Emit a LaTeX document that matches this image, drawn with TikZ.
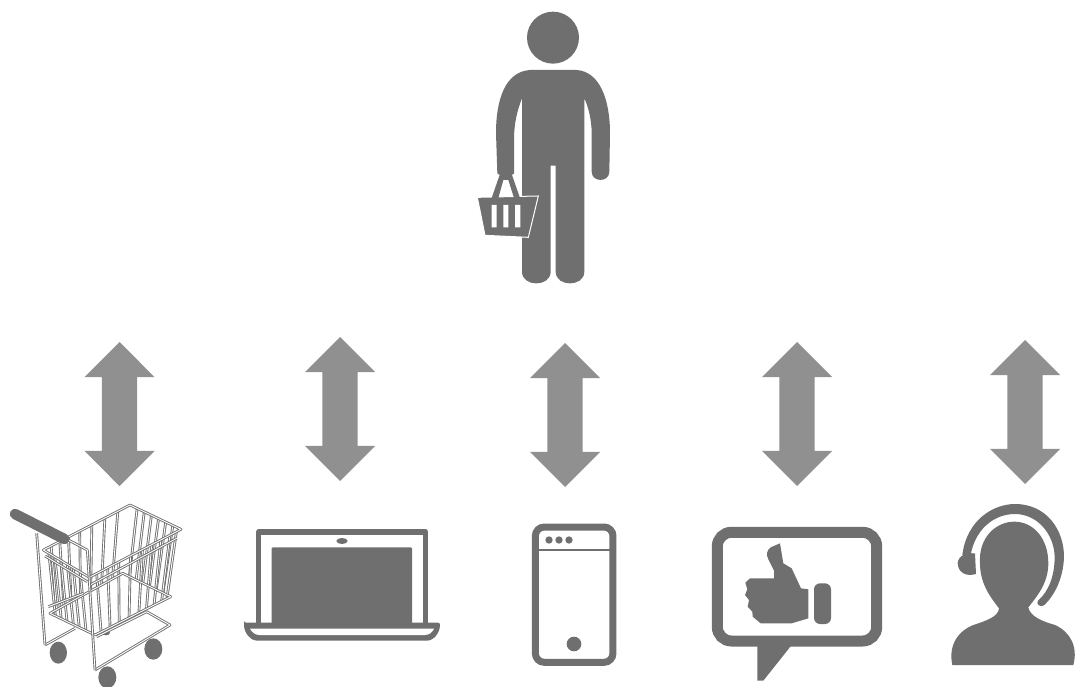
\documentclass[tikz,border=0pt]{standalone}
\usetikzlibrary{shapes.arrows,calc}
\definecolor{icon}{HTML}{6F6F6F}
\definecolor{arrowgray}{HTML}{909090}
\tikzset{
  x=1pt,y=-1pt,
  zoomed/.style={scale=1/3},
  solidicon/.style={fill=icon,draw=none},
  linework/.style={draw=icon,fill=none},
  wire/.style={draw=icon,line width=0.9pt,double=white,double distance=0.9pt,line join=round},
  bothways/.style={shape=double arrow,fill=arrowgray,draw=none,rotate=90,inner sep=0pt,
    text height=17.5pt,text depth=17.5pt,
    minimum height=144pt,minimum width=70pt,double arrow head extend=17.5pt,double arrow head indent=0pt},
}
\begin{document}
\begin{tikzpicture}
\useasboundingbox (0,0) rectangle (1077,687);
% arrows
\node[bothways] (a1) at (119.5,414) {};
\node[bothways] (a2) at (340,409) {};
\node[bothways] (a3) at (565,415) {};
\node[bothways] (a4) at (797,414) {};
\node[bothways] (a5) at (1025,412) {};
% person
\begin{scope}[shift={(440,0)},zoomed]
\fill[icon] (339,113) circle (78);
\path[solidicon] (270,210) -- (410,210) .. controls (480,215) and (510,300) .. (510,400) -- (508,515)
  .. controls (508,548) and (455,548) .. (455,515) -- (455,400) .. controls (455,360) and (445,320) .. (433,295)
  -- (433,815) .. controls (433,862) and (347,862) .. (347,815) -- (347,497) -- (332,497) -- (332,815)
  .. controls (332,862) and (246,862) .. (246,815) -- (246,295) .. controls (232,330) and (222,370) .. (222,420)
  -- (222,520) .. controls (215,530) and (180,530) .. (172,520) -- (168,400) .. controls (168,300) and (195,215) .. (270,210) -- cycle;
% basket
\path[fill=icon,draw=white,line width=1pt,line join=miter] (112,592) -- (295,588) -- (265,712) -- (135,706) -- cycle;
\path[solidicon] (155,594) -- (180,522) -- (215,522) -- (240,594) -- (222,594) -- (205,540) -- (190,540) -- (175,594) -- cycle;
\fill[white] (155,615) rectangle (170,682) (190,615) rectangle (205,682) (225,615) rectangle (241,682);
\end{scope}
% cart
\begin{scope}[shift={(0,490)},zoomed]
\coordinate (T1) at (130,180); \coordinate (T2) at (390,45); \coordinate (T3) at (543,118); \coordinate (T4) at (268,262);
\coordinate (B1) at (150,370); \coordinate (B2) at (368,250); \coordinate (B3) at (512,320); \coordinate (B4) at (285,435);
\fill[icon] (318,428) ellipse (12 and 8);
\fill[icon] (175,488) ellipse (26 and 33);
\fill[icon] (460,477) ellipse (27 and 32);
\fill[icon] (322,562) ellipse (27 and 33);
\draw[wire] (135,465) -- (225,415);
\draw[wire] (285,540) -- (510,405) -- (440,365) -- (290,440);
\foreach \t in {0.09,0.19,0.29,0.42,0.56,0.71,0.86}
  \draw[wire] ($(T1)!\t!(T2)$) -- ($(B1)!\t!(B2)$);
\foreach \t in {0.14,0.28,0.42,0.56,0.70,0.84}
  \draw[wire] ($(T2)!\t!(T3)$) -- ($(B2)!\t!(B3)$);
\foreach \t in {0.08,0.2,0.32,0.45,0.58,0.68,0.78,0.88,0.95}
  \draw[wire] ($(T4)!\t!(T3)$) -- ($(B4)!\t!(B3)$);
\foreach \t in {0.12,0.25,0.38,0.52,0.65,0.8}
  \draw[wire] ($(T1)!\t!(T4)$) -- ($(B1)!\t!(B4)$);
\draw[wire] (T1) -- (T2) -- (T3) -- (T4) -- cycle;
\draw[wire] (B1) -- (B2) -- (B3) -- (B4) -- cycle;
\draw[wire] (270,285) -- (530,145);
\draw[wire] (145,350) -- (250,310);
\draw[wire] (135,198) -- (262,275);
\draw[wire] (110,130) -- (135,465);
\draw[wire] (205,150) -- (262,180) -- (285,540);
\draw[icon,line width=10.5pt,line cap=round] (45,72) -- (193,147);
\end{scope}
% laptop and phone
\begin{scope}[shift={(230,510)},zoomed]
\draw[linework,line width=5.5pt,line join=round] (86,342) -- (86,66) -- (587,66) -- (587,342);
\fill[icon,rounded corners=1pt] (125,112) rectangle (546,345);
\fill[icon] (336,93) ellipse (17 and 9);
\path[solidicon,rounded corners=2pt] (42,338) -- (630,338) .. controls (630,370) and (610,392) .. (585,392) -- (88,392) .. controls (62,392) and (42,370) .. (42,338) -- cycle;
\fill[white] (60,356) -- (612,356) .. controls (608,366) and (598,375) .. (585,375) -- (88,375) .. controls (75,375) and (65,366) .. (60,356) -- cycle;
\draw[linework,line width=7pt,rounded corners=9pt] (916,51) rectangle (1149,457);
\draw[icon,line width=2pt] (916,120) -- (1149,120);
\fill[icon] (957,90) circle (11) (987,90) circle (11) (1017,90) circle (11);
\fill[icon] (1032,402) circle (22);
\end{scope}
% thumbs up and headset
\begin{scope}[shift={(700,500)},zoomed]
\draw[linework,line width=11pt,rounded corners=14pt] (52,97) rectangle (530,423);
\path[solidicon] (172,430) -- (172,542) -- (190,542) -- (275,435) -- cycle;
\path[solidicon] (240,130) -- (212,142) .. controls (200,150) and (198,165) .. (205,178) -- (222,212) -- (222,235) -- (150,235)
  -- (136,248) -- (142,268) -- (135,285) -- (147,300) -- (143,320) -- (157,335) -- (158,350) -- (182,370) -- (275,370) -- (325,355) -- (325,268) -- (303,265)
  -- (275,205) -- (250,190) -- cycle;
\path[solidicon,rounded corners=6pt] (342,250) rectangle (393,372);
\path[solidicon] (757,495) .. controls (745,440) and (770,395) .. (820,375) .. controls (860,362) and (895,350) .. (897,325)
  .. controls (870,290) and (840,250) .. (840,190) .. controls (835,110) and (890,65) .. (943,65)
  .. controls (1000,65) and (1045,115) .. (1045,190) .. controls (1045,250) and (1010,290) .. (985,322)
  .. controls (990,350) and (1030,365) .. (1065,375) .. controls (1110,395) and (1135,440) .. (1120,495) -- cycle;
\path[solidicon] (787,165) .. controls (800,60) and (880,12) .. (945,12) .. controls (1040,12) and (1092,90) .. (1092,170)
  .. controls (1090,240) and (1060,290) .. (1032,316) .. controls (1022,324) and (1006,312) .. (1014,302)
  .. controls (1045,275) and (1064,230) .. (1064,170) .. controls (1062,100) and (1010,42) .. (945,42)
  .. controls (880,42) and (825,90) .. (812,165) -- cycle;
\path[solidicon] (825,160) -- (828,222) .. controls (800,230) and (775,220) .. (773,190) .. controls (775,165) and (800,158) .. (825,160) -- cycle;
\end{scope}
\end{tikzpicture}
\end{document}
